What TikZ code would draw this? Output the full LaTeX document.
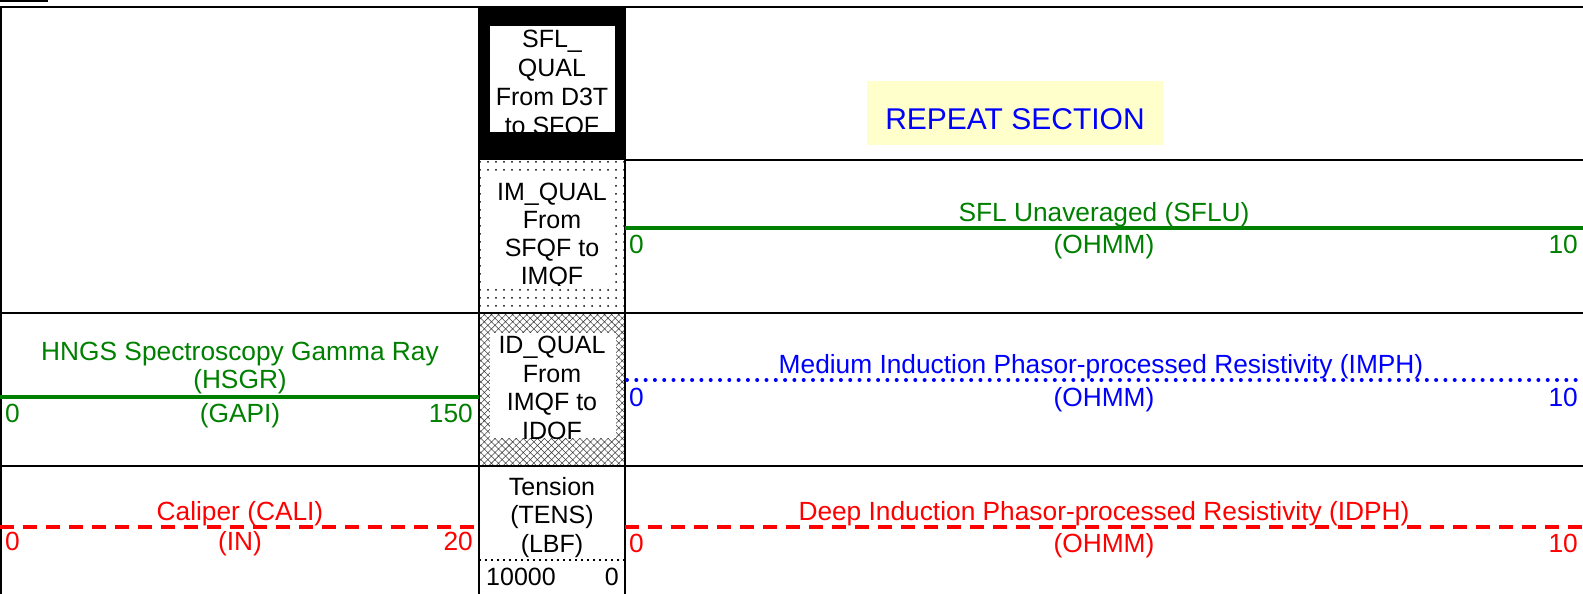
\documentclass[tikz,border=0pt]{standalone}
\usepackage{fontspec}
\setmainfont{Liberation Sans}
\usetikzlibrary{patterns.meta}
\definecolor{crvgreen}{RGB}{0,128,0}
\definecolor{crvred}{RGB}{255,0,0}
\definecolor{crvblue}{RGB}{0,0,255}
\definecolor{notice}{RGB}{255,255,204}

\begin{document}
\begin{tikzpicture}[x=1pt,y=-1pt,
  grid/.style={line width=2pt,black},
  trk/.style={font=\fontsize{26.3}{28}\selectfont,inner sep=0pt,anchor=base},
  trkl/.style={trk,anchor=base west},
  trkr/.style={trk,anchor=base east},
  mid/.style={font=\fontsize{25}{28}\selectfont,inner sep=0pt,anchor=base},
  solidcurve/.style={line width=4pt,crvgreen},
  dotcurve/.style={line width=4pt,crvblue,line cap=round,dash pattern=on 0pt off 9.3pt},
  dashcurve/.style={line width=3.5pt,crvred,dash pattern=on 14pt off 9pt},
]
\useasboundingbox (0,0) rectangle (1583,594);

% fragment of the heading above the table
\fill (0,0) rectangle (48,2);

% ---- quality flag column fills ----
\fill[black] (479,7) rectangle (625,160);
\fill[white] (490,26) rectangle (615,132);
\fill[pattern={Dots[radius=1pt,distance=8pt]},pattern color=black] (479,160) rectangle (625,313);
\fill[white] (487,175) rectangle (615,285);
\fill[pattern={Hatch[angle=45,distance=5pt,line width=0.55pt]},pattern color=black!75] (479,313) rectangle (625,466);
\fill[white] (490,333) rectangle (616,438);

% ---- repeat notice ----
\fill[notice] (867,81) rectangle (1163,145);
\node[font=\fontsize{30}{32}\selectfont,inner sep=0pt,anchor=base,text=crvblue] (rep) at (1015,129) {REPEAT SECTION};

% ---- table grid ----
\draw[grid] (0,7) -- (1583,7);
\draw[grid] (1,7) -- (1,594);
\draw[grid] (479,7) -- (479,594);
\draw[grid] (625,7) -- (625,594);
\draw[grid] (625,160) -- (1583,160);
\draw[grid] (0,313) -- (1583,313);
\draw[grid] (0,466) -- (1583,466);
\draw[line width=2pt,dash pattern=on 2pt off 4pt] (479,560) -- (625,560);

% ---- curve header lines ----
\coordinate (sfluL) at (625,228);  \coordinate (sfluR) at (1583,228);
\coordinate (hsgrL) at (0,397);    \coordinate (hsgrR) at (479,397);
\coordinate (imphL) at (627,380);  \coordinate (imphR) at (1583,380);
\coordinate (caliL) at (0,527);    \coordinate (caliR) at (479,527);
\coordinate (idphL) at (625,527);  \coordinate (idphR) at (1583,527);
\draw[solidcurve] (sfluL) -- (sfluR);
\draw[solidcurve] (hsgrL) -- (hsgrR);
\draw[dotcurve] (imphL) -- (imphR);
\draw[dashcurve] (caliL) -- (caliR);
\draw[dashcurve] (idphL) -- (idphR);

% ---- SFL_QUAL ----
\begin{scope}
\clip (490,26) rectangle (615,132);
\node[mid] (sq1) at (552,48) {SFL\_};
\node[mid] (sq2) at (552,77) {QUAL};
\node[mid] (sq3) at (552,105.5) {From D3T};
\node[mid] (sq4) at (552,134) {to SFQF};
\end{scope}

% ---- IM_QUAL ----
\begin{scope}
\clip (487,175) rectangle (615,285);
\node[mid] (iq1) at (552,200) {IM\_QUAL};
\node[mid] (iq2) at (552,228) {From};
\node[mid] (iq3) at (552,256) {SFQF to};
\node[mid] (iq4) at (552,284) {IMQF};
\end{scope}

% ---- ID_QUAL ----
\begin{scope}
\clip (490,333) rectangle (616,438);
\node[mid] (dq1) at (552,353) {ID\_QUAL};
\node[mid] (dq2) at (552,382) {From};
\node[mid] (dq3) at (552,410.5) {IMQF to};
\node[mid] (dq4) at (552,439.5) {IDQF};
\end{scope}

% ---- Tension ----
\node[mid] (tn1) at (552,495) {Tension};
\node[mid] (tn2) at (552,523) {(TENS)};
\node[mid] (tn3) at (552,552) {(LBF)};
\node[mid,anchor=base west] (tnl) at (486,585) {10000};
\node[mid,anchor=base east] (tnr) at (619,585) {0};

% ---- SFLU ----
\begin{scope}[text=crvgreen]
\node[trk] (sfT) at (1104,221) {SFL Unaveraged (SFLU)};
\node[trk] (sfU) at (1104,253) {(OHMM)};
\node[trkl] (sfA) at (629,253) {0};
\node[trkr] (sfB) at (1578,253) {10};
% ---- HSGR ----
\node[trk] (gr1) at (240,360) {HNGS Spectroscopy Gamma Ray};
\node[trk] (gr2) at (240,388) {(HSGR)};
\node[trk] (grU) at (240,422) {(GAPI)};
\node[trkl] (grA) at (5,422) {0};
\node[trkr] (grB) at (473,422) {150};
\end{scope}

% ---- IMPH ----
\begin{scope}[text=crvblue]
\node[trk] (imT) at (1101,373) {Medium Induction Phasor-processed Resistivity (IMPH)};
\node[trk] (imU) at (1104,406) {(OHMM)};
\node[trkl] (imA) at (629,406) {0};
\node[trkr] (imB) at (1578,406) {10};
\end{scope}

% ---- CALI / IDPH ----
\begin{scope}[text=crvred]
\node[trk] (caT) at (240,520) {Caliper (CALI)};
\node[trk] (caU) at (240,550) {(IN)};
\node[trkl] (caA) at (5,550) {0};
\node[trkr] (caB) at (473,550) {20};
\node[trk] (idT) at (1104,520) {Deep Induction Phasor-processed Resistivity (IDPH)};
\node[trk] (idU) at (1104,552) {(OHMM)};
\node[trkl] (idA) at (629,552) {0};
\node[trkr] (idB) at (1578,552) {10};
\end{scope}
\end{tikzpicture}
\end{document}
